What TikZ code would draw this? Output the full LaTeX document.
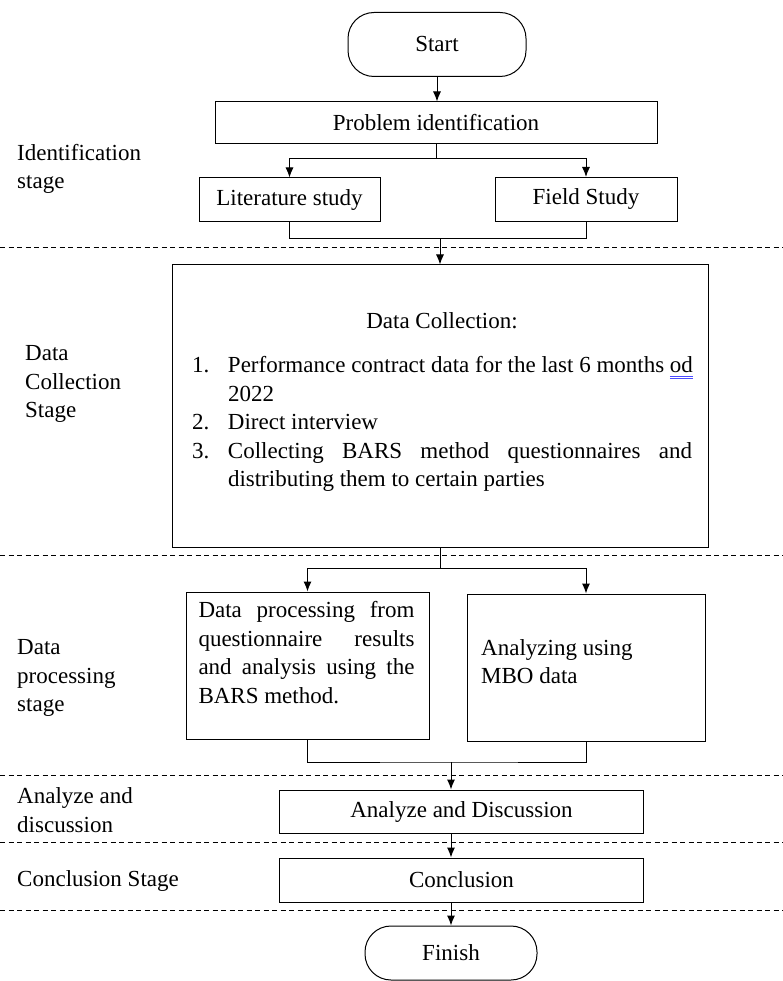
\documentclass[tikz,border=0pt]{standalone}
\usepackage{fontspec}
\setmainfont{Liberation Serif}
\usetikzlibrary{arrows.meta}
\newcommand{\wordfont}{\fontsize{23}{28.5}\selectfont}
\newcommand{\spellmark}[1]{\setbox0\hbox{#1}\rlap{\color{blue!70}\rule[-4pt]{\wd0}{0.7pt}\llap{\rule[-6.5pt]{\wd0}{0.7pt}}}#1}
\tikzstyle{stage_box}=[draw=black, line width=1pt, inner sep=0pt, minimum height=43pt]
\tikzstyle{terminal}=[draw=black, line width=1pt, rounded corners=26pt, inner sep=0pt, minimum width=178pt, minimum height=64pt]
\tikzstyle{stage_label}=[anchor=west, align=left, inner sep=0pt]
\tikzstyle{split_line}=[line width=1pt]
\tikzstyle{flow_arrow}=[line width=1pt, -{Latex[length=10pt,width=8pt]}]
\tikzstyle{stage_sep}=[line width=0.9pt, dash pattern=on 5pt off 3.5pt]

\begin{document}
\begin{tikzpicture}[x=1pt, y=-1pt, every node/.style={font=\wordfont}]
          \useasboundingbox (0,0) rectangle (783,981);
          \node[terminal] (start) at (437,44.5) {Start};
          \node[stage_box, minimum width=442pt, minimum height=42pt] (prob) at (436,123) {Problem identification};
          \node[stage_box, minimum width=181pt, minimum height=44pt] (lit) at (289.5,200) {Literature study};
          \node[stage_box, minimum width=182pt, minimum height=44pt] (field) at (586,199.5) {Field Study};
          \node[stage_box, minimum width=536pt, minimum height=282pt] (dcol) at (440,406) {};
          \node[text width=500pt, align=justify, inner sep=0pt, anchor=north] (dcoltxt) at (442,312) {%
            {\centering Data Collection:\par}\vspace{16pt}%
            \noindent\makebox[36pt][l]{1.}\makebox[464pt][l]{Performance contract data for the last 6 months \spellmark{od}}\par
            \noindent\hspace*{36pt}2022\par
            \noindent\makebox[36pt][l]{2.}Direct interview\par
            \hangindent=36pt\hangafter=1\noindent\makebox[36pt][l]{3.}Collecting BARS method questionnaires and\linebreak distributing them to certain parties\par};
          \node[stage_box, minimum width=243pt, minimum height=147pt] (dproc) at (307.5,665.5) {};
          \node[text width=216pt, align=justify, inner sep=0pt] (dproctxt) at (306.5,652.5) {Data processing from\linebreak questionnaire results\linebreak and analysis using the\linebreak BARS method.};
          \node[stage_box, minimum width=238pt, minimum height=147pt] (mbo) at (586,667.5) {};
          \node[stage_label] (mbotxt) at (481,661.5) {Analyzing using\\MBO data};
          \node[stage_box, minimum width=364pt, minimum height=43pt] (anl) at (461.5,811.5) {Analyze and Discussion};
          \node[stage_box, minimum width=364pt, minimum height=44pt] (concl) at (461.5,880) {Conclusion};
          \node[terminal, minimum width=172pt, minimum height=54pt] (finish) at (451,953) {Finish};
          % stage names
          \node[stage_label] (lblid) at (17,169) {Identification\\stage};
          \node[stage_label] (lbldcol) at (25,384) {Data\\Collection\\Stage};
          \node[stage_label] (lbldproc) at (17,678) {Data\\processing\\stage};
          \node[stage_label] (lblanl) at (17,810) {Analyze and\\discussion};
          \node[stage_label] (lblconcl) at (17,881) {Conclusion Stage};
          % stage borders
          \foreach \y in {247,555,775,842,910}
            \draw[stage_sep] (0,\y) -- (783,\y);
          % flow
          \draw[flow_arrow] (start.south) -- (start.south |- prob.north);
          \draw[split_line] (prob.south) -- ++(0,14) coordinate (fork1);
          \draw[flow_arrow] (fork1) -| (lit.north);
          \draw[flow_arrow] (fork1) -| (field.north);
          \draw[split_line] (lit.south) -- ++(0,16) coordinate (join1) -| (field.south);
          \draw[flow_arrow] (join1 -| dcol.north) -- (dcol.north);
          \draw[split_line] (dcol.south) -- ++(0,21) coordinate (fork2);
          \draw[flow_arrow] (fork2) -| (dproc.north);
          \draw[flow_arrow] (fork2) -| (mbo.north);
          \coordinate (join2) at (451,762);
          \draw[split_line] (dproc.south) |- (join2) -| (mbo.south);
          \draw[flow_arrow] (join2) -- (join2 |- anl.north);
          \draw[flow_arrow] (anl.south -| finish.north) -- (concl.north -| finish.north);
          \draw[flow_arrow] (concl.south -| finish.north) -- (finish.north);
        \end{tikzpicture}
\end{document}
